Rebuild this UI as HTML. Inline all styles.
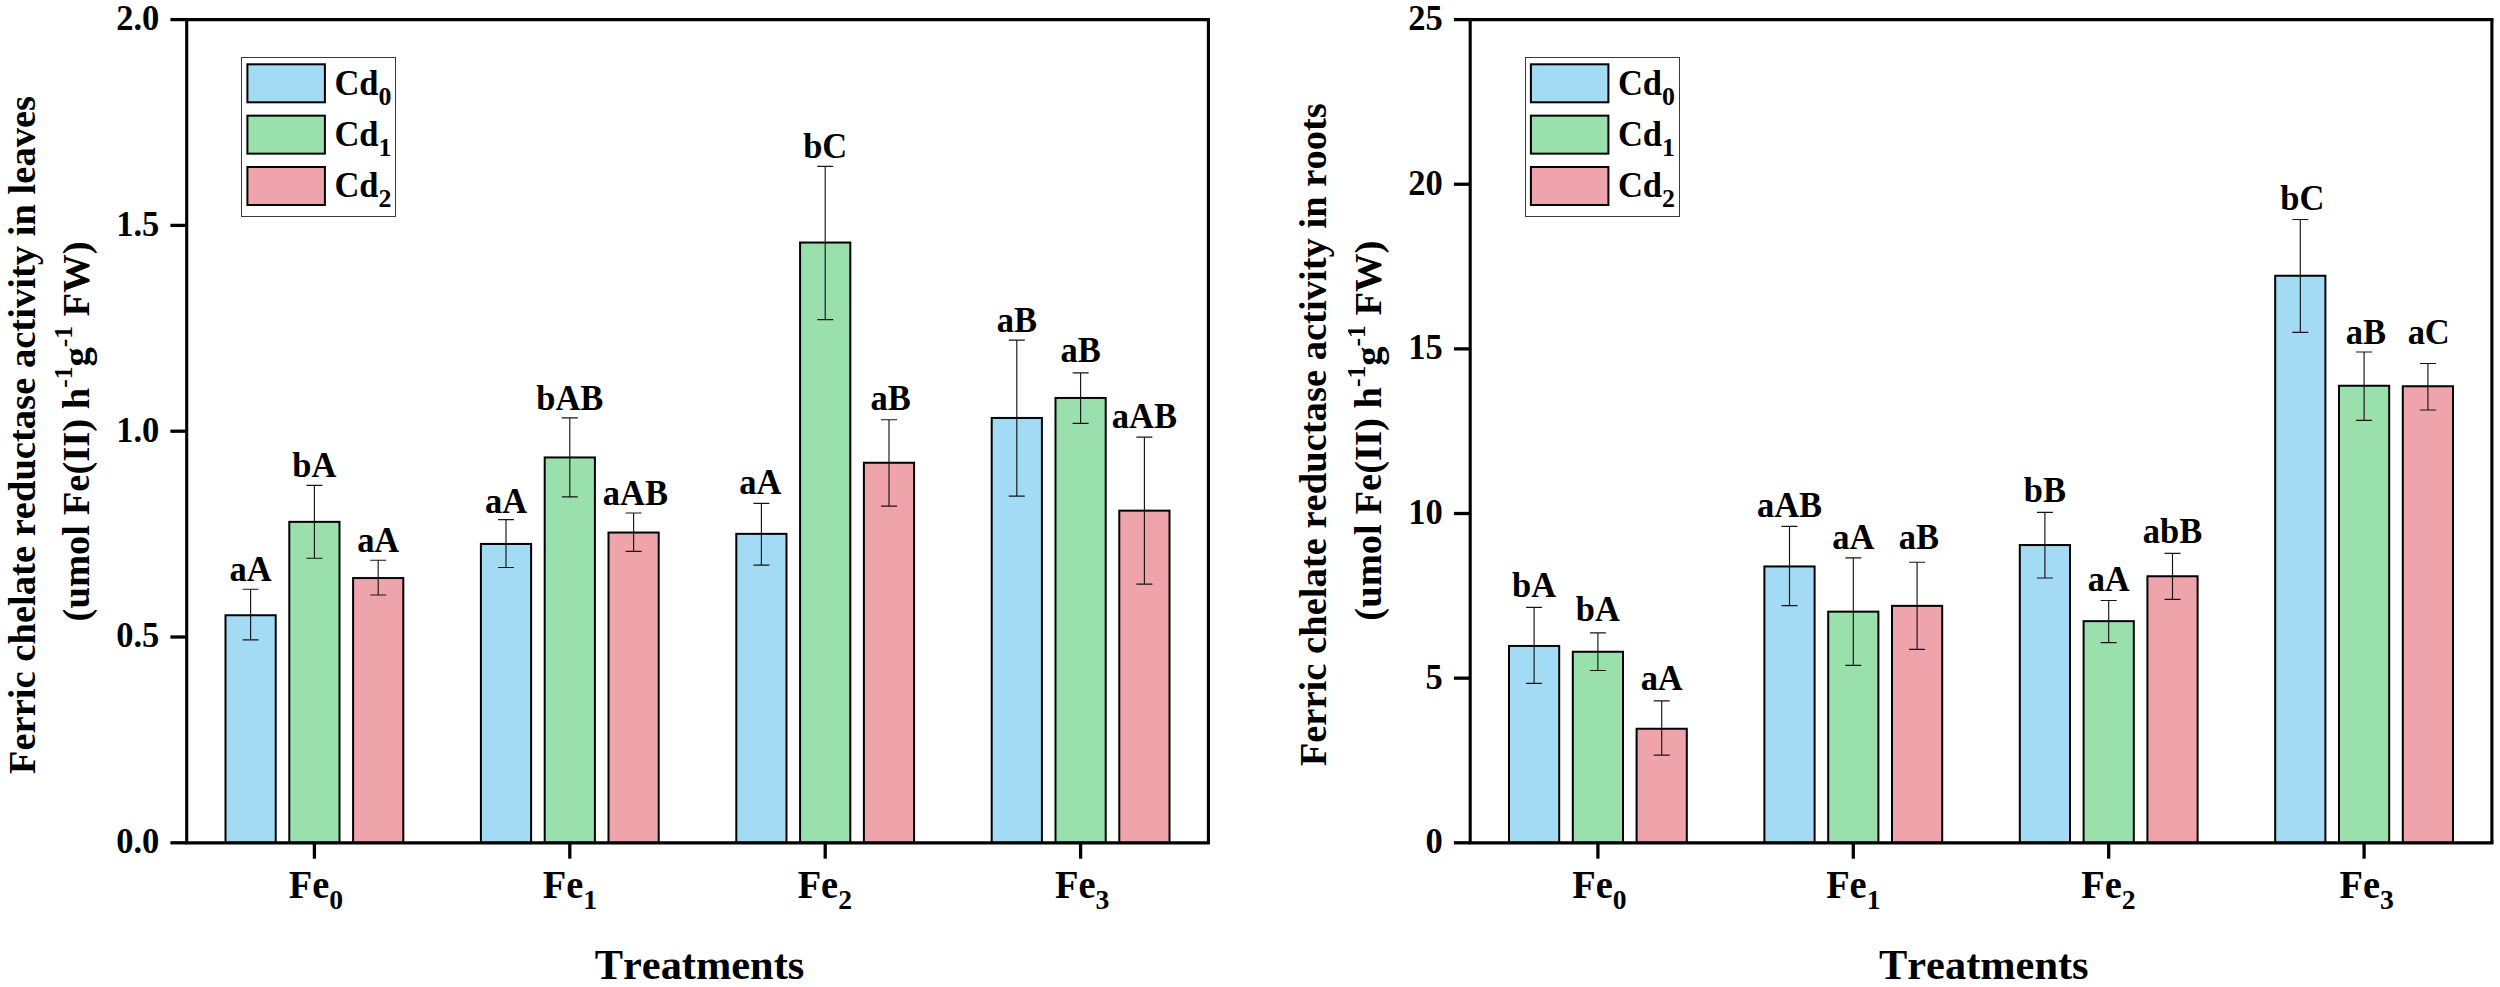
<!DOCTYPE html>
<html><head><meta charset="utf-8"><title>Ferric chelate reductase activity</title>
<style>
html,body{margin:0;padding:0;background:#fff;}
body{width:2500px;height:987px;overflow:hidden;}
svg{display:block;}
svg text{font-family:"Liberation Serif","Times New Roman",serif;font-weight:bold;fill:#000;font-kerning:none;font-variant-ligatures:none;}
</style></head><body>
<svg width="2500" height="987" viewBox="0 0 2500 987">
<rect width="2500" height="987" fill="#fff"/>
<g transform="translate(0,0)">
<rect x="225.5" y="615.25" width="50.2" height="227.55" fill="#A3DAF4" stroke="#000" stroke-width="2"/>
<path d="M250.6 589.2V639.8M242.6 589.2h16M242.6 639.8h16" stroke="#161616" stroke-width="1.15" fill="none"/>
<text transform="translate(250.6,580.9) scale(1,1.04)" font-size="34.5" text-anchor="middle">aA</text>
<rect x="289.3" y="521.85" width="50.2" height="320.95" fill="#9AE0AC" stroke="#000" stroke-width="2"/>
<path d="M314.4 485.4V558.2M306.4 485.4h16M306.4 558.2h16" stroke="#161616" stroke-width="1.15" fill="none"/>
<text transform="translate(314.4,476.7) scale(1,1.04)" font-size="34.5" text-anchor="middle">bA</text>
<rect x="353.1" y="578.05" width="50.2" height="264.75" fill="#EFA3AA" stroke="#000" stroke-width="2"/>
<path d="M378.2 560.2V595M370.2 560.2h16M370.2 595h16" stroke="#161616" stroke-width="1.15" fill="none"/>
<text transform="translate(378.2,551.9) scale(1,1.04)" font-size="34.5" text-anchor="middle">aA</text>
<rect x="480.9" y="543.95" width="50.2" height="298.85" fill="#A3DAF4" stroke="#000" stroke-width="2"/>
<path d="M506 519.6V567.5M498 519.6h16M498 567.5h16" stroke="#161616" stroke-width="1.15" fill="none"/>
<text transform="translate(506,512.6) scale(1,1.04)" font-size="34.5" text-anchor="middle">aA</text>
<rect x="544.7" y="457.45" width="50.2" height="385.35" fill="#9AE0AC" stroke="#000" stroke-width="2"/>
<path d="M569.8 417.9V496.8M561.8 417.9h16M561.8 496.8h16" stroke="#161616" stroke-width="1.15" fill="none"/>
<text transform="translate(569.8,409.8) scale(1,1.04)" font-size="34.5" text-anchor="middle">bAB</text>
<rect x="608.5" y="532.55" width="50.2" height="310.25" fill="#EFA3AA" stroke="#000" stroke-width="2"/>
<path d="M633.6 513V551.3M625.6 513h16M625.6 551.3h16" stroke="#161616" stroke-width="1.15" fill="none"/>
<text transform="translate(635.4,504.9) scale(1,1.04)" font-size="34.5" text-anchor="middle">aAB</text>
<rect x="736.3" y="533.85" width="50.2" height="308.95" fill="#A3DAF4" stroke="#000" stroke-width="2"/>
<path d="M761.4 503.4V565.1M753.4 503.4h16M753.4 565.1h16" stroke="#161616" stroke-width="1.15" fill="none"/>
<text transform="translate(760.4,494) scale(1,1.04)" font-size="34.5" text-anchor="middle">aA</text>
<rect x="800.1" y="242.55" width="50.2" height="600.25" fill="#9AE0AC" stroke="#000" stroke-width="2"/>
<path d="M825.2 166.3V319.6M817.2 166.3h16M817.2 319.6h16" stroke="#161616" stroke-width="1.15" fill="none"/>
<text transform="translate(825.2,158) scale(1,1.04)" font-size="34.5" text-anchor="middle">bC</text>
<rect x="863.9" y="462.75" width="50.2" height="380.05" fill="#EFA3AA" stroke="#000" stroke-width="2"/>
<path d="M889 419.7V506.1M881 419.7h16M881 506.1h16" stroke="#161616" stroke-width="1.15" fill="none"/>
<text transform="translate(890.6,410.4) scale(1,1.04)" font-size="34.5" text-anchor="middle">aB</text>
<rect x="991.7" y="417.95" width="50.2" height="424.85" fill="#A3DAF4" stroke="#000" stroke-width="2"/>
<path d="M1016.8 340.1V496.1M1008.8 340.1h16M1008.8 496.1h16" stroke="#161616" stroke-width="1.15" fill="none"/>
<text transform="translate(1016.8,331.8) scale(1,1.04)" font-size="34.5" text-anchor="middle">aB</text>
<rect x="1055.5" y="397.95" width="50.2" height="444.85" fill="#9AE0AC" stroke="#000" stroke-width="2"/>
<path d="M1080.6 372.8V423.4M1072.6 372.8h16M1072.6 423.4h16" stroke="#161616" stroke-width="1.15" fill="none"/>
<text transform="translate(1080.6,361.9) scale(1,1.04)" font-size="34.5" text-anchor="middle">aB</text>
<rect x="1119.3" y="510.65" width="50.2" height="332.15" fill="#EFA3AA" stroke="#000" stroke-width="2"/>
<path d="M1144.4 437.1V584.1M1136.4 437.1h16M1136.4 584.1h16" stroke="#161616" stroke-width="1.15" fill="none"/>
<text transform="translate(1144.4,427.7) scale(1,1.04)" font-size="34.5" text-anchor="middle">aAB</text>
<path d="M186.7 19.6V842.8M1208.4 19.6V842.8" fill="none" stroke="#000" stroke-width="3.1"/>
<path d="M185.15 19.6H1209.95M185.15 842.8H1209.95" fill="none" stroke="#000" stroke-width="3.3"/>
<path d="M170.4 842.8H186.7" stroke="#000" stroke-width="3.3"/>
<text transform="translate(159.3,853.2) scale(1,1.04)" font-size="34.5" text-anchor="end">0.0</text>
<path d="M170.4 637H186.7" stroke="#000" stroke-width="3.3"/>
<text transform="translate(159.3,647.4) scale(1,1.04)" font-size="34.5" text-anchor="end">0.5</text>
<path d="M170.4 431.2H186.7" stroke="#000" stroke-width="3.3"/>
<text transform="translate(159.3,441.6) scale(1,1.04)" font-size="34.5" text-anchor="end">1.0</text>
<path d="M170.4 225.4H186.7" stroke="#000" stroke-width="3.3"/>
<text transform="translate(159.3,235.8) scale(1,1.04)" font-size="34.5" text-anchor="end">1.5</text>
<path d="M170.4 19.6H186.7" stroke="#000" stroke-width="3.3"/>
<text transform="translate(159.3,30) scale(1,1.04)" font-size="34.5" text-anchor="end">2.0</text>
<path d="M314.4 842.8V858.7" stroke="#000" stroke-width="3.3"/>
<text transform="translate(316,898.4) scale(1,1.02)" font-size="38.4" text-anchor="middle">Fe<tspan font-size="27.65" dy="10">0</tspan></text>
<path d="M569.8 842.8V858.7" stroke="#000" stroke-width="3.3"/>
<text transform="translate(569.9,898.4) scale(1,1.02)" font-size="38.4" text-anchor="middle">Fe<tspan font-size="27.65" dy="10">1</tspan></text>
<path d="M825.2 842.8V858.7" stroke="#000" stroke-width="3.3"/>
<text transform="translate(824.8,898.4) scale(1,1.02)" font-size="38.4" text-anchor="middle">Fe<tspan font-size="27.65" dy="10">2</tspan></text>
<path d="M1080.6 842.8V858.7" stroke="#000" stroke-width="3.3"/>
<text transform="translate(1082.2,898.4) scale(1,1.02)" font-size="38.4" text-anchor="middle">Fe<tspan font-size="27.65" dy="10">3</tspan></text>
<text transform="translate(699.5,979.4) scale(1,1.01)" font-size="42.4" text-anchor="middle">Treatments</text>
<text transform="translate(34.7,435) rotate(-90) scale(1,1.01)" font-size="38.6" text-anchor="middle">Ferric chelate reductase activity in leaves</text>
<text transform="translate(88.6,431.4) rotate(-90) scale(1,1.01)" font-size="38.6" text-anchor="middle">(umol Fe(II) h<tspan font-size="25.48" dy="-16">-1</tspan><tspan dy="16">g</tspan><tspan font-size="25.48" dy="-16">-1</tspan><tspan dy="16"> FW)</tspan></text>
<rect x="241.5" y="57.5" width="154" height="159" fill="#fff" stroke="#3a3a3a" stroke-width="1"/>
<rect x="247.4" y="64.3" width="77.5" height="38" fill="#A3DAF4" stroke="#000" stroke-width="2"/>
<text transform="translate(334.4,94.6) scale(1,1.01)" font-size="34.5">Cd<tspan font-size="25.88" dy="9.8">0</tspan></text>
<rect x="247.4" y="115.65" width="77.5" height="38" fill="#9AE0AC" stroke="#000" stroke-width="2"/>
<text transform="translate(334.4,145.95) scale(1,1.01)" font-size="34.5">Cd<tspan font-size="25.88" dy="9.8">1</tspan></text>
<rect x="247.4" y="167" width="77.5" height="38" fill="#EFA3AA" stroke="#000" stroke-width="2"/>
<text transform="translate(334.4,197.3) scale(1,1.01)" font-size="34.5">Cd<tspan font-size="25.88" dy="9.8">2</tspan></text>
</g>
<g transform="translate(1283.5,0)">
<rect x="225.5" y="645.95" width="50.2" height="196.85" fill="#A3DAF4" stroke="#000" stroke-width="2"/>
<path d="M250.6 607.4V683.3M242.6 607.4h16M242.6 683.3h16" stroke="#161616" stroke-width="1.15" fill="none"/>
<text transform="translate(250.6,596.8) scale(1,1.04)" font-size="34.5" text-anchor="middle">bA</text>
<rect x="289.3" y="651.75" width="50.2" height="191.05" fill="#9AE0AC" stroke="#000" stroke-width="2"/>
<path d="M314.4 632.9V670.5M306.4 632.9h16M306.4 670.5h16" stroke="#161616" stroke-width="1.15" fill="none"/>
<text transform="translate(314.4,621.3) scale(1,1.04)" font-size="34.5" text-anchor="middle">bA</text>
<rect x="353.1" y="728.75" width="50.2" height="114.05" fill="#EFA3AA" stroke="#000" stroke-width="2"/>
<path d="M378.2 700.8V755.1M370.2 700.8h16M370.2 755.1h16" stroke="#161616" stroke-width="1.15" fill="none"/>
<text transform="translate(378.2,690.2) scale(1,1.04)" font-size="34.5" text-anchor="middle">aA</text>
<rect x="480.9" y="566.45" width="50.2" height="276.35" fill="#A3DAF4" stroke="#000" stroke-width="2"/>
<path d="M506 526.4V605.6M498 526.4h16M498 605.6h16" stroke="#161616" stroke-width="1.15" fill="none"/>
<text transform="translate(506,516.6) scale(1,1.04)" font-size="34.5" text-anchor="middle">aAB</text>
<rect x="544.7" y="611.65" width="50.2" height="231.15" fill="#9AE0AC" stroke="#000" stroke-width="2"/>
<path d="M569.8 557.8V665.4M561.8 557.8h16M561.8 665.4h16" stroke="#161616" stroke-width="1.15" fill="none"/>
<text transform="translate(569.8,549) scale(1,1.04)" font-size="34.5" text-anchor="middle">aA</text>
<rect x="608.5" y="605.85" width="50.2" height="236.95" fill="#EFA3AA" stroke="#000" stroke-width="2"/>
<path d="M633.6 562.2V649.3M625.6 562.2h16M625.6 649.3h16" stroke="#161616" stroke-width="1.15" fill="none"/>
<text transform="translate(635.4,549) scale(1,1.04)" font-size="34.5" text-anchor="middle">aB</text>
<rect x="736.3" y="545.05" width="50.2" height="297.75" fill="#A3DAF4" stroke="#000" stroke-width="2"/>
<path d="M761.4 512.3V578M753.4 512.3h16M753.4 578h16" stroke="#161616" stroke-width="1.15" fill="none"/>
<text transform="translate(761.4,502.1) scale(1,1.04)" font-size="34.5" text-anchor="middle">bB</text>
<rect x="800.1" y="621.15" width="50.2" height="221.65" fill="#9AE0AC" stroke="#000" stroke-width="2"/>
<path d="M825.2 600.5V642.6M817.2 600.5h16M817.2 642.6h16" stroke="#161616" stroke-width="1.15" fill="none"/>
<text transform="translate(825.2,591.3) scale(1,1.04)" font-size="34.5" text-anchor="middle">aA</text>
<rect x="863.9" y="576.25" width="50.2" height="266.55" fill="#EFA3AA" stroke="#000" stroke-width="2"/>
<path d="M889 553.4V599.4M881 553.4h16M881 599.4h16" stroke="#161616" stroke-width="1.15" fill="none"/>
<text transform="translate(889,543.1) scale(1,1.04)" font-size="34.5" text-anchor="middle">abB</text>
<rect x="991.7" y="275.75" width="50.2" height="567.05" fill="#A3DAF4" stroke="#000" stroke-width="2"/>
<path d="M1016.8 219.5V332.3M1008.8 219.5h16M1008.8 332.3h16" stroke="#161616" stroke-width="1.15" fill="none"/>
<text transform="translate(1018.8,210.4) scale(1,1.04)" font-size="34.5" text-anchor="middle">bC</text>
<rect x="1055.5" y="385.75" width="50.2" height="457.05" fill="#9AE0AC" stroke="#000" stroke-width="2"/>
<path d="M1080.6 352V420.4M1072.6 352h16M1072.6 420.4h16" stroke="#161616" stroke-width="1.15" fill="none"/>
<text transform="translate(1082.3,344.2) scale(1,1.04)" font-size="34.5" text-anchor="middle">aB</text>
<rect x="1119.3" y="386.25" width="50.2" height="456.55" fill="#EFA3AA" stroke="#000" stroke-width="2"/>
<path d="M1144.4 363.5V410M1136.4 363.5h16M1136.4 410h16" stroke="#161616" stroke-width="1.15" fill="none"/>
<text transform="translate(1145.2,344.2) scale(1,1.04)" font-size="34.5" text-anchor="middle">aC</text>
<path d="M186.7 19.6V842.8M1208.4 19.6V842.8" fill="none" stroke="#000" stroke-width="3.1"/>
<path d="M185.15 19.6H1209.95M185.15 842.8H1209.95" fill="none" stroke="#000" stroke-width="3.3"/>
<path d="M170.4 842.8H186.7" stroke="#000" stroke-width="3.3"/>
<text transform="translate(159.3,853.2) scale(1,1.04)" font-size="34.5" text-anchor="end">0</text>
<path d="M170.4 678.16H186.7" stroke="#000" stroke-width="3.3"/>
<text transform="translate(159.3,688.56) scale(1,1.04)" font-size="34.5" text-anchor="end">5</text>
<path d="M170.4 513.52H186.7" stroke="#000" stroke-width="3.3"/>
<text transform="translate(159.3,523.92) scale(1,1.04)" font-size="34.5" text-anchor="end">10</text>
<path d="M170.4 348.88H186.7" stroke="#000" stroke-width="3.3"/>
<text transform="translate(159.3,359.28) scale(1,1.04)" font-size="34.5" text-anchor="end">15</text>
<path d="M170.4 184.24H186.7" stroke="#000" stroke-width="3.3"/>
<text transform="translate(159.3,194.64) scale(1,1.04)" font-size="34.5" text-anchor="end">20</text>
<path d="M170.4 19.6H186.7" stroke="#000" stroke-width="3.3"/>
<text transform="translate(159.3,30) scale(1,1.04)" font-size="34.5" text-anchor="end">25</text>
<path d="M314.4 842.8V858.7" stroke="#000" stroke-width="3.3"/>
<text transform="translate(316,898.4) scale(1,1.02)" font-size="38.4" text-anchor="middle">Fe<tspan font-size="27.65" dy="10">0</tspan></text>
<path d="M569.8 842.8V858.7" stroke="#000" stroke-width="3.3"/>
<text transform="translate(569.8,898.4) scale(1,1.02)" font-size="38.4" text-anchor="middle">Fe<tspan font-size="27.65" dy="10">1</tspan></text>
<path d="M825.2 842.8V858.7" stroke="#000" stroke-width="3.3"/>
<text transform="translate(824.9,898.4) scale(1,1.02)" font-size="38.4" text-anchor="middle">Fe<tspan font-size="27.65" dy="10">2</tspan></text>
<path d="M1080.6 842.8V858.7" stroke="#000" stroke-width="3.3"/>
<text transform="translate(1083.1,898.4) scale(1,1.02)" font-size="38.4" text-anchor="middle">Fe<tspan font-size="27.65" dy="10">3</tspan></text>
<text transform="translate(700.3,979.4) scale(1,1.01)" font-size="42.4" text-anchor="middle">Treatments</text>
<text transform="translate(42.9,434.75) rotate(-90) scale(1,1.01)" font-size="38.6" text-anchor="middle">Ferric chelate reductase activity in roots</text>
<text transform="translate(97.9,430.6) rotate(-90) scale(1,1.01)" font-size="38.6" text-anchor="middle">(umol Fe(II) h<tspan font-size="25.48" dy="-16">-1</tspan><tspan dy="16">g</tspan><tspan font-size="25.48" dy="-16">-1</tspan><tspan dy="16"> FW)</tspan></text>
<rect x="242" y="57.5" width="154" height="159" fill="#fff" stroke="#3a3a3a" stroke-width="1"/>
<rect x="247.4" y="64.3" width="77.5" height="38" fill="#A3DAF4" stroke="#000" stroke-width="2"/>
<text transform="translate(334.4,94.6) scale(1,1.01)" font-size="34.5">Cd<tspan font-size="25.88" dy="9.8">0</tspan></text>
<rect x="247.4" y="115.65" width="77.5" height="38" fill="#9AE0AC" stroke="#000" stroke-width="2"/>
<text transform="translate(334.4,145.95) scale(1,1.01)" font-size="34.5">Cd<tspan font-size="25.88" dy="9.8">1</tspan></text>
<rect x="247.4" y="167" width="77.5" height="38" fill="#EFA3AA" stroke="#000" stroke-width="2"/>
<text transform="translate(334.4,197.3) scale(1,1.01)" font-size="34.5">Cd<tspan font-size="25.88" dy="9.8">2</tspan></text>
</g>
</svg>
</body></html>
